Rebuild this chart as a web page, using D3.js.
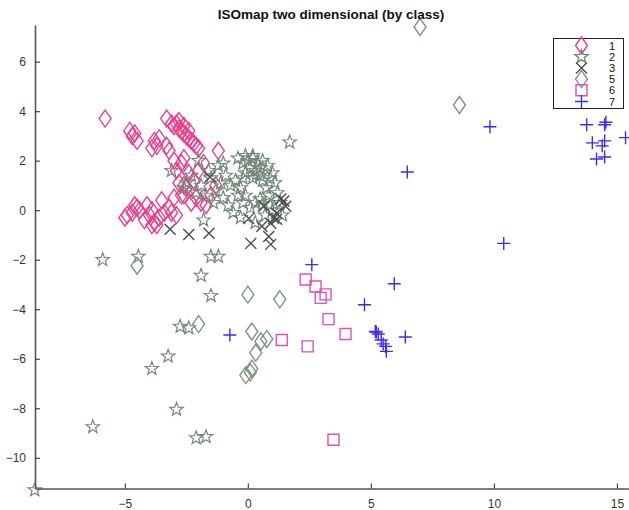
<!DOCTYPE html>
<html>
<head>
<meta charset="utf-8">
<script src="https://cdn.jsdelivr.net/npm/d3@7"></script>
<style>
  body { margin: 0; background: #fff; }
  text { font-family: "Liberation Sans", Arial, sans-serif; }
</style>
</head>
<body>
<div id="chart"></div>
<script>
// class 1: pink diamonds
var class1 = [[-5.8,3.7],[-4.8,3.2],[-4.7,3.0],[-4.5,2.8],[-4.6,3.1],[-3.9,2.5],[-3.8,2.8],[-3.7,2.6],[-3.6,2.9],
  [-3.3,3.7],[-3.1,3.5],[-3.0,3.4],[-2.9,3.5],[-2.8,3.3],[-2.7,3.2],[-2.6,3.1],[-2.5,3.0],[-2.4,2.9],[-2.3,2.8],
  [-2.2,2.7],[-2.1,2.6],[-2.0,2.5],[-2.8,3.6],[-2.6,3.4],[-2.4,3.2],[-3.2,2.4],[-3.0,2.0],[-2.7,1.9],[-2.6,2.1],
  [-2.4,1.5],[-2.2,1.2],[-2.0,1.6],[-1.8,1.9],[-3.3,2.6],[-2.9,1.6],[-2.8,1.1],[-2.6,0.6],[-1.2,2.4],[-2.6,1.0],
  [-5.0,-0.3],[-4.9,-0.2],[-4.7,-0.1],[-4.6,0.2],[-4.5,0.1],[-4.4,0.0],[-4.2,-0.4],[-4.0,-0.2],[-3.9,0.0],
  [-3.8,-0.5],[-3.7,-0.6],[-3.6,-0.3],[-3.5,0.4],[-3.4,-0.1],[-3.2,0.1],[-3.0,0.5],[-2.9,-0.2],[-2.7,0.6],
  [-2.5,0.9],[-2.3,0.3],[-2.1,0.5],[-1.9,0.3],[-1.7,0.2],[-1.5,0.6],[-1.3,1.0],[-3.1,-0.1],[-3.9,-0.6],[-4.1,0.2]];
// class 2: grey stars
var class2 = [[1.7,2.75],[0.0,2.0],[0.2,2.1],[-0.2,1.9],[0.4,1.9],[0.1,1.7],[0.3,1.6],[-0.1,1.5],[0.5,1.4],[0.2,1.3],
  [0.6,1.2],[0.75,0.9],[0.5,0.45],[0.85,0.6],[0.3,0.3],[0.6,0.25],[0.9,0.2],[0.1,0.1],[-0.2,0.3],[-0.1,0.6],
  [-0.3,0.9],[-0.5,1.2],[-0.7,1.0],[-0.9,1.4],[-1.1,1.1],[-1.3,0.8],[-1.5,1.3],[-1.0,0.5],[-0.8,0.2],[-0.6,-0.1],
  [-1.4,0.3],[-1.7,0.6],[-1.9,1.0],[-2.1,0.7],[-1.6,1.6],[-1.2,1.8],[-0.4,2.1],[0.8,1.8],[1.0,1.5],[1.1,1.1],
  [1.2,0.7],[1.3,0.3],[1.0,0.0],[0.7,-0.2],[-0.3,-0.3],[-1.8,-0.4],[-0.2,1.3],[-0.4,0.6],[1.4,-0.2],
  [0.3,-0.5],[-2.3,1.4],[-2.6,0.9],[-2.5,1.1],[-2.0,2.0],[-1.0,1.9],[0.6,2.0],[0.9,1.3],[0.2,2.2],[-0.1,2.2],
  [0.5,1.7],[0.35,1.45],[-3.1,1.6],
  [-5.9,-2.0],[-4.45,-1.87],[-1.5,-1.87],[-1.2,-1.87],[-1.9,-2.64],[-1.5,-3.45],[-2.75,-4.7],[-2.4,-4.76],
  [-3.24,-5.9],[-3.9,-6.4],[-2.9,-8.05],[-6.3,-8.75],[-2.1,-9.2],[-1.7,-9.15],[-8.66,-11.3]];
// class 3: dark crosses
var class3 = [[-1.54,1.34],[-3.16,-0.77],[-2.4,-0.98],[-1.58,-0.93],[0.65,0.16],[1.34,0.45],[1.54,0.16],[1.46,0.37],
  [1.17,-0.12],[1.05,-0.33],[0.93,-0.53],[0.57,-0.65],[0.12,-1.34],[0.85,-1.06],[0.93,-1.38],[0.04,-0.33],[1.17,-0.37]];
// class 5: grey-green diamonds
var class5 = [[7.0,7.4],[8.6,4.25],[-4.5,-2.24],[0.0,-3.41],[1.3,-3.6],[-2.0,-4.6],[0.16,-4.9],[0.53,-5.3],
  [0.77,-5.2],[0.32,-5.76],[0.16,-6.4],[-0.08,-6.66],[0.1,-6.55]];
// class 6: magenta squares
var class6 = [[2.35,-2.8],[2.75,-3.08],[3.16,-3.4],[2.96,-3.54],[3.28,-4.4],[3.97,-5.0],[2.43,-5.5],[1.38,-5.24],[3.48,-9.27]];
// class 7: blue plus
var class7 = [[-0.73,-5.04],[2.6,-2.2],[5.95,-2.97],[4.74,-3.82],[6.4,-5.12],[5.22,-4.92],[5.3,-5.0],[5.42,-5.24],
  [5.5,-5.4],[5.6,-5.5],[5.63,-5.7],[5.18,-4.9],[9.84,3.37],[6.48,1.54],[10.4,-1.34],[13.77,3.45],[14.5,3.45],
  [14.55,3.55],[14.0,2.72],[14.5,2.8],[14.4,2.6],[14.17,2.07],[14.5,2.15],[15.35,2.93]];

var classNames = ["1", "2", "3", "5", "6", "7"];
var classData = [class1, class2, class3, class5, class6, class7];
var classColors = ["#ec3f8c", "#74877b", "#4a4a4a", "#7e9482", "#dc52b6", "#3b2cf2"];
var classShapes = ["diamond", "star", "cross", "diamond", "square", "plus"];

var xTicks = [-5, 0, 5, 10, 15];
var yTicks = [-10, -8, -6, -4, -2, 0, 2, 4, 6];

var width = 629, height = 510;

var svg = d3.select("#chart").append("svg")
    .attr("width", width)
    .attr("height", height);

var x = d3.scaleLinear().domain([-8.65, 15.49]).range([35, 629]);
var y = d3.scaleLinear().domain([-11.24, 7.48]).range([488.5, 25]);

// marker path builders (local coords)
function shapePath(shape) {
    if (shape == "diamond")
        return "M0,-8.5L6,0L0,8.5L-6,0Z";
    if (shape == "square")
        return "M-5.5,-5.5H5.5V5.5H-5.5Z";
    if (shape == "plus")
        return "M-6.5,0H6.5M0,-6.5V6.5";
    if (shape == "cross")
        return "M-5.5,-5.5L5.5,5.5M-5.5,5.5L5.5,-5.5";
    // pentagram outline
    var p = [];
    for (var i = 0; i < 10; i++) {
        var r = i % 2 == 0 ? 7 : 2.9;
        var a = -Math.PI / 2 + i * Math.PI / 5;
        p.push([r * Math.cos(a), r * Math.sin(a)]);
    }
    return "M" + p.map(d => d[0].toFixed(2) + "," + d[1].toFixed(2)).join("L") + "Z";
}

var g = svg.append("g");

classData.forEach(function (data, i) {
    g.append("g").attr("class", "series")
        .selectAll("path")
        .data(data)
        .enter().append("path")
        .attr("d", shapePath(classShapes[i]))
        .attr("transform", d => "translate(" + x(d[0]) + "," + y(d[1]) + ")")
        .attr("fill", "none")
        .attr("stroke", classColors[i])
        .attr("stroke-width", classShapes[i] == "star" ? 1.2 : 1.4);
});

// axes (MATLAB style, ticks inward, no box)
var xAxis = d3.axisBottom(x).tickValues(xTicks).tickSizeInner(-5).tickSizeOuter(0).tickPadding(9);
var yAxis = d3.axisLeft(y).tickValues(yTicks).tickSizeInner(-5).tickSizeOuter(0).tickPadding(9);

var gx = svg.append("g").attr("transform", "translate(0," + y.range()[0] + ")").call(xAxis);
var gy = svg.append("g").attr("transform", "translate(" + x.range()[0] + ",0)").call(yAxis);

[gx, gy].forEach(function (a) {
    a.select(".domain").attr("stroke", "#555").attr("stroke-width", 1.6);
    a.selectAll(".tick line").attr("stroke", "#444").attr("stroke-width", 1.2);
    a.selectAll(".tick text").attr("fill", "#333").style("font-size", "12px")
        .style("font-family", "'Liberation Sans', Arial, sans-serif");
});
gx.selectAll(".tick text").attr("dy", "0.9em");

// title
svg.append("text")
    .attr("x", 331)
    .attr("y", 19)
    .attr("text-anchor", "middle")
    .style("font-size", "13.5px")
    .style("font-weight", "bold")
    .attr("fill", "#111")
    .text("ISOmap two dimensional (by class)");

// legend
var legend = svg.append("g");
legend.append("rect")
    .attr("x", 553.5).attr("y", 38.5)
    .attr("width", 70).attr("height", 70)
    .attr("fill", "#fff")
    .attr("stroke", "#222")
    .attr("stroke-width", 1);

var ly = d3.scalePoint().domain(classNames).range([45.5, 101.5]);
classNames.forEach(function (name, i) {
    legend.append("path")
        .attr("d", shapePath(classShapes[i]))
        .attr("transform", "translate(581.5," + ly(name) + ")")
        .attr("fill", "none")
        .attr("stroke", classColors[i])
        .attr("stroke-width", 1.4);
    legend.append("text")
        .attr("x", 615)
        .attr("y", ly(name) + 4)
        .attr("text-anchor", "end")
        .style("font-size", "11px")
        .attr("fill", "#111")
        .text(name);
});
</script>
</body>
</html>
